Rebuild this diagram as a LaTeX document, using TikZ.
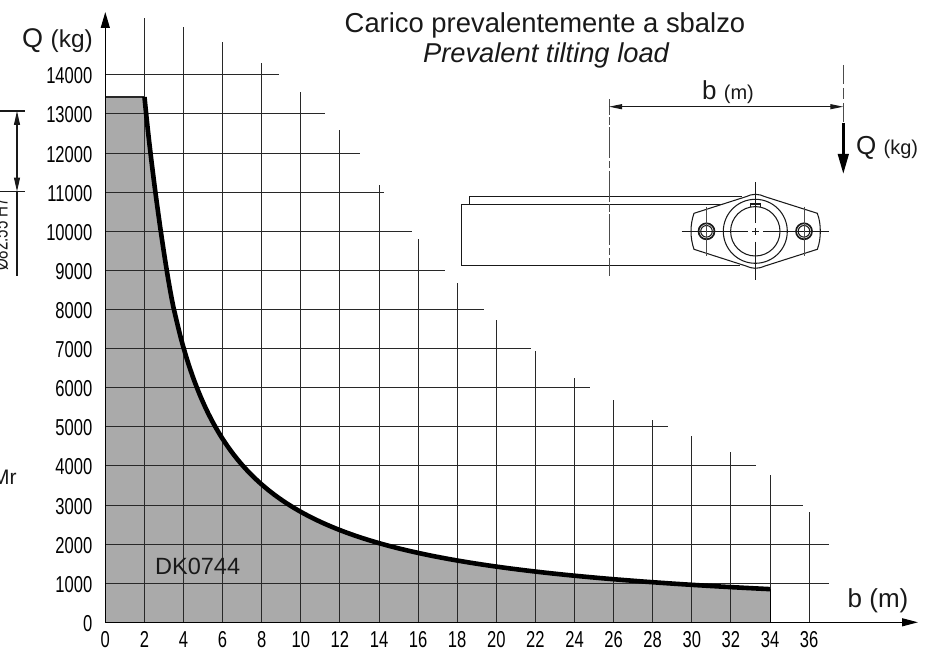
\documentclass[tikz,border=0pt]{standalone}
\usepackage{fontspec}
\setmainfont{Liberation Sans}
\newfontfamily\tickfont[FakeStretch=0.72]{Liberation Sans}
\usetikzlibrary{arrows.meta}
\definecolor{gridc}{RGB}{40,40,40}
\definecolor{fillc}{RGB}{170,170,170}
\newcommand{\fs}[1]{\fontsize{#1}{#1}\selectfont}
\tikzset{
  gridline/.style={draw=gridc,line width=1pt},
  axisline/.style={draw=black,line width=1.2pt},
  thin part/.style={draw=black!90,line width=1.05pt},
  ticklabel/.style={font=\tickfont\fs{23},inner sep=0pt,text=black},
  lab/.style={inner sep=0pt,anchor=base west,text=black!90},
  centerdash/.style={draw=black!70,line width=1pt,dash pattern=on 31pt off 2.5pt on 7.5pt off 2.5pt,dash phase=15.5pt},
  centerdashb/.style={draw=black!70,line width=1pt,dash pattern=on 19pt off 4pt on 11pt off 4pt on 19pt off 100pt},
}
\begin{document}
\begin{tikzpicture}[x=1pt,y=-1pt]
\useasboundingbox (0,0) rectangle (937,650);
% filled area under the curve
\fill[fillc] (105.3,622.3) -- (105.3,97) -- (144.5,97)
  .. controls (151.5,172) and (166,273) .. (173.7,308.5)
  -- plot[domain=3.5:34,samples=90,smooth] ({105.3+19.55*\x},{622.3-39.1*(28/\x+0.025)})
  -- (770,622.3) -- cycle;
% grid: verticals
\foreach \i/\t in {1/18,2/27,3/42,4/63,5/92,6/130,7/185,8/239,9/283,10/320,11/351,12/378,13/400,14/420,15/436,16/452,17/475,18/512}{
  \draw[gridline] ({105.3+39.1*\i},622.3) -- ({105.3+39.1*\i},\t);
}
% grid: horizontals
\foreach \i/\e in {1/829,2/829,3/803,4/756,5/668,6/590,7/531,8/484,9/445,10/412,11/383.6,12/360,13/325,14/279}{
  \draw[gridline] (105.3,{622.3-39.1*\i}) -- (\e,{622.3-39.1*\i});
}
% top and right of area
\draw[gridline,line width=1.2pt] (105.3,97) -- (144.5,97);
\draw[draw=black,line width=1.7pt] (770.6,589.3) -- (770.6,622.3);
% axes
\coordinate (orig) at (105.3,622.3);
\coordinate (ytip) at (105.3,12);
\coordinate (xtip) at (918,622.3);
\draw[axisline,-{Triangle[length=16pt,width=9pt]}] (orig) -- (ytip);
\draw[axisline,-{Triangle[length=16pt,width=8pt]}] (orig) -- (xtip);
% curve
\draw[black,line width=4.6pt,line join=round] (144.5,97)
  .. controls (151.5,172) and (166,273) .. (173.7,308.5)
  -- plot[domain=3.5:34,samples=90,smooth] ({105.3+19.55*\x},{622.3-39.1*(28/\x+0.025)});
% tick labels
\foreach \i/\l in {0/0,1/1000,2/2000,3/3000,4/4000,5/5000,6/6000,7/7000,8/8000,9/9000,10/10000,11/11000,12/12000,13/13000,14/14000}{
  \node[ticklabel,anchor=base east] (qt\i) at (92.5,{631.3-39.1*\i}) {\l};
}
\foreach \i in {0,1,...,18}{
  \pgfmathtruncatemacro{\v}{2*\i}
  \node[ticklabel,anchor=base] (bt\i) at ({105.3+39.1*\i},647.3) {\v};
}
% labels
\node[lab] (qaxis) at (22,48) {\fs{27}Q \fs{24.5}(kg)};
\node[lab] (baxis) at (847.5,607.3) {\fs{26}b (m)};
\node[lab] (dk) at (155,574) {\fs{23.5}DK0744};
\node[lab,anchor=base] (title1) at (545,32.7) {\fs{27.4}Carico prevalentemente a sbalzo};
\node[lab,anchor=base] (title2) at (546,62.7) {\fs{27.3}\itshape Prevalent tilting load};
\node[lab] (bdim) at (702,99.3) {\fs{26}b \fs{20}(m)};
\node[lab] (qdim) at (856,154) {\fs{26}Q \fs{20}(kg)};
\node[lab] (mr) at (-8,484) {\fs{21}Mr};
% left cropped dimension
\coordinate (d1) at (17,111);
\coordinate (d2) at (17,191.5);
\coordinate (d3) at (17,276);
\draw[thin part] (0,111) -- (25,111);
\draw[thin part] (0,191.5) -- (25,191.5);
\draw[thin part,{Triangle[length=14pt,width=6pt]}-{Triangle[length=14pt,width=6pt]}] (d1) -- (d2);
\draw[thin part] (d2) -- (d3);
\node[inner sep=0pt,rotate=90,anchor=base west,text=black!90] (dia) at (7.5,271) {\tickfont\fs{21}Ø82.55 H7};
% machine outline
\draw[thin part] (723,204.3) -- (461.7,204.3) -- (461.7,265.7) -- (740,265.7);
\draw[thin part] (469.3,204.3) -- (469.3,196.7) -- (742,196.7);
\draw[thin part,fill=white] (755.3,194.3) .. controls (759,194.3) and (762,195.3) .. (765,196.7) -- (817.3,213.3)
  .. controls (819.5,219) and (820.3,225) .. (820.3,231.3) .. controls (820.3,237.5) and (819.5,243.5) .. (817.3,249.3)
  -- (765,266) .. controls (762,267.3) and (759,268.3) .. (755.3,268.3) .. controls (752,268.3) and (749,267.3) .. (746,266)
  -- (694,249.3) .. controls (692,243.5) and (691,237.5) .. (691,231.3) .. controls (691,225) and (692,219) .. (694,213.3)
  -- (746,196.7) .. controls (749,195.3) and (752,194.3) .. (755.3,194.3) -- cycle;
\draw[thin part] (755.3,231.3) circle (32);
\draw[thin part] (750.8,206.8) -- (750.8,204) -- (760.5,204) -- (760.5,207.2);
\draw[thin part] (755.3,231.3) circle (24.7);
\draw[draw=black!90,line width=1.7pt] (706.5,231.3) circle (8);
\draw[thin part] (706.5,231.3) circle (5.8);
\draw[draw=black!90,line width=1.7pt] (804,231.3) circle (8);
\draw[thin part] (804,231.3) circle (5.8);
% centre lines
\draw[thin part] (681.7,231.3) -- (748.4,231.3);
\draw[thin part] (752,231.3) -- (758.5,231.3);
\draw[thin part] (763,231.3) -- (829,231.3);
\draw[thin part] (755.3,182.3) -- (755.3,223);
\draw[thin part] (755.3,228) -- (755.3,235);
\draw[thin part] (755.3,241.7) -- (755.3,280);
\draw[draw=black!70,line width=1pt] (706.5,206.7) -- (706.5,256);
\draw[draw=black!70,line width=1pt] (804,206.7) -- (804,256);
\coordinate (c1a) at (609,99.3);
\coordinate (c1b) at (609,275.7);
\coordinate (c2a) at (843.3,65);
\coordinate (c2b) at (843.3,123);
\coordinate (c2c) at (843.3,174);
\coordinate (dl) at (609,106.7);
\coordinate (dr) at (843.3,106.7);
\draw[centerdash] (c1a) -- (c1b);
\draw[centerdashb] (c2a) -- (c2b);
\draw[thin part,{Triangle[length=13pt,width=5pt]}-{Triangle[length=13pt,width=5pt]}] (dl) -- (dr);
\draw[draw=black,line width=2.8pt,-{Triangle[length=20pt,width=10.5pt]}] (c2b) -- (c2c);
\end{tikzpicture}
\end{document}
